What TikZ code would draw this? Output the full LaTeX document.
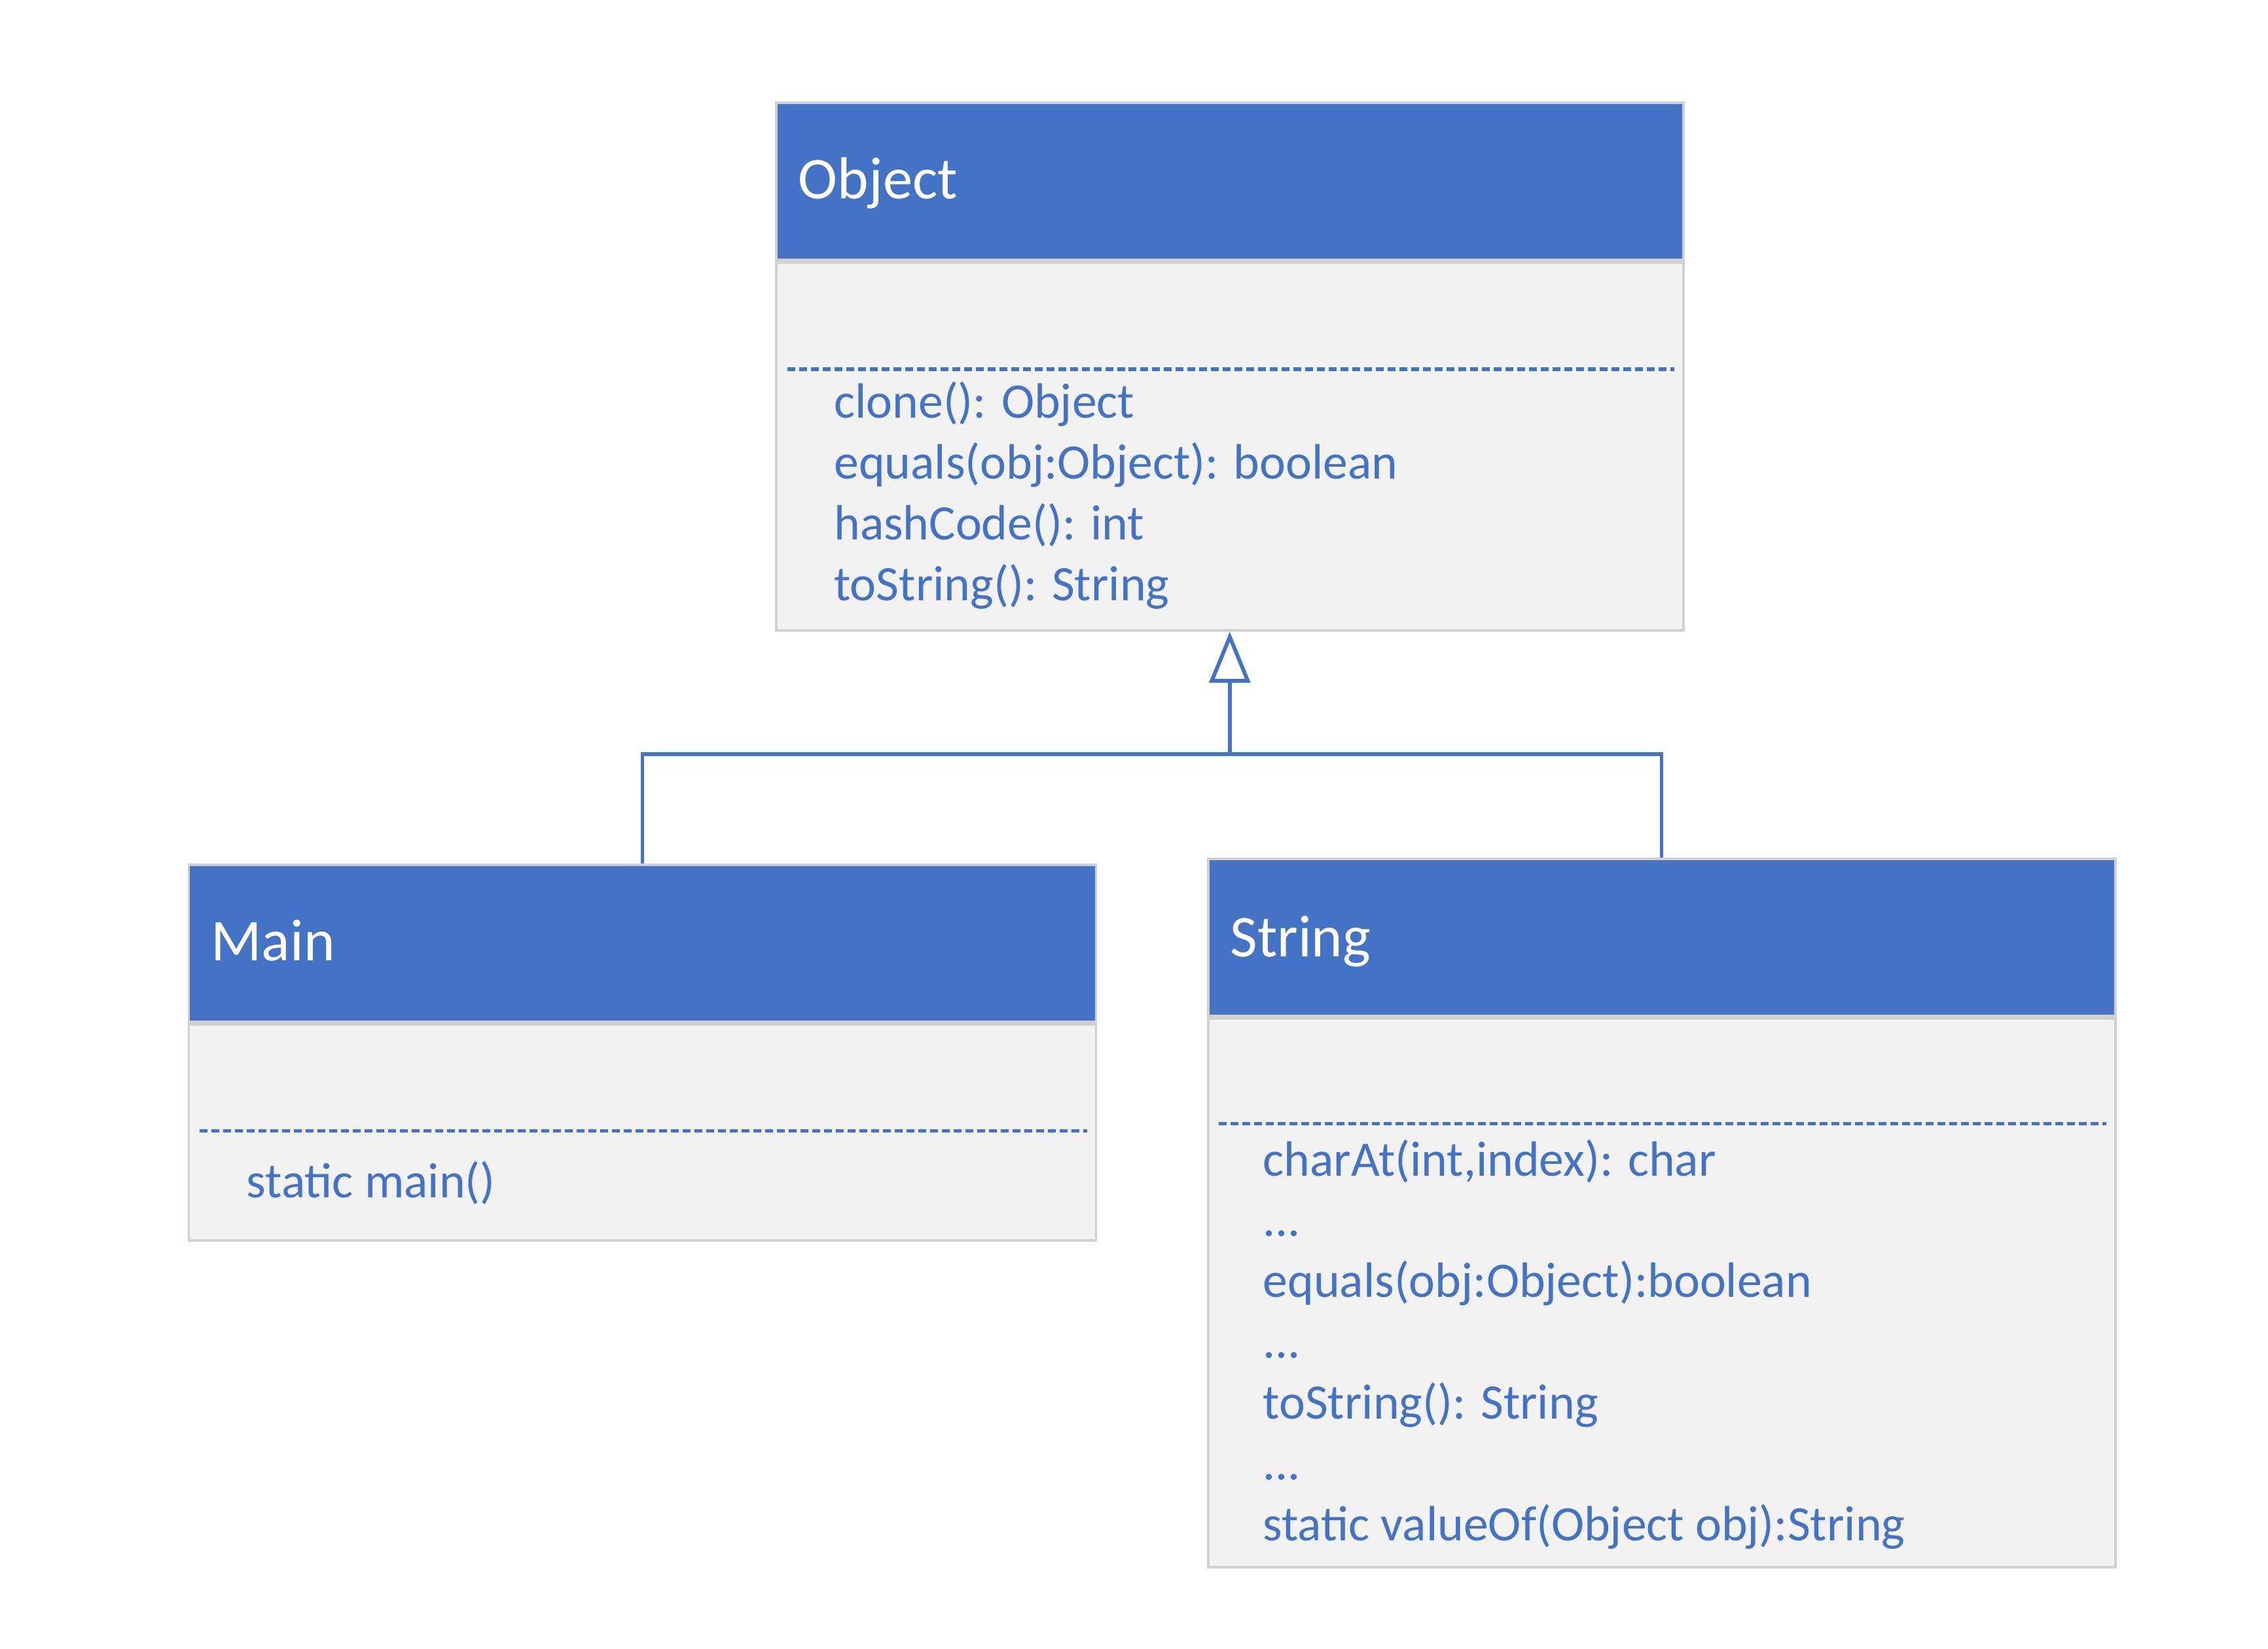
\documentclass[tikz,border=0pt]{standalone}
\usepackage{fontspec}
\setmainfont{Carlito}
\usetikzlibrary{arrows.meta,positioning}
\definecolor{umlblue}{HTML}{4472C4}
\definecolor{umlfill}{HTML}{F2F2F2}
\definecolor{umledge}{HTML}{D0D0D0}

\begin{document}
\begin{tikzpicture}[
    head/.style={rectangle,draw=umledge,fill=umlblue,line width=0.5pt,minimum width=6.24cm,minimum height=1.08cm,inner sep=0,anchor=north west},
    body/.style={rectangle,draw=umledge,fill=umlfill,line width=0.5pt,minimum width=6.24cm,minimum height=#1,inner sep=0},
    title/.style={anchor=base west,inner sep=0,text=white,font=\fontsize{11.6}{14}\selectfont},
    members/.style={anchor=base west,align=left,inner sep=0,text=umlblue,font=\fontsize{9.7}{11.9}\selectfont},
    sep/.style={draw=umlblue,line width=0.75pt,dash pattern=on 0.054cm off 0.027cm},
    inherit/.style={draw=umlblue,line width=0.75pt}]
  \useasboundingbox (0,0) rectangle (15.6,11.34);

  % Object
  \node[head]                          (objhead) at (5.33,10.64) {};
  \node[body=2.53cm,below=0pt of objhead] (objbody) {};
  \node[title] (objtitle) at ([shift={(0.155,-0.665)}]objhead.north west) {Object};
  \draw[sep] ([shift={(0.085,-0.74)}]objbody.north west) -- ([shift={(-0.07,-0.74)}]objbody.north east);
  % base = last line
  \node[members] (objops) at ([shift={(0.40,-2.334)}]objbody.north west)
    {clone(): Object\\equals(obj:Object): boolean\\hashCode(): int\\toString(): String};

  % Main
  \node[head]                           (mainhead) at (1.29,5.40) {};
  \node[body=1.485cm,below=0pt of mainhead] (mainbody) {};
  \node[title] (maintitle) at ([shift={(0.155,-0.665)}]mainhead.north west) {Main};
  \draw[sep] ([shift={(0.085,-0.74)}]mainbody.north west) -- ([shift={(-0.07,-0.74)}]mainbody.north east);
  \node[members] (mainops) at ([shift={(0.40,-1.20)}]mainbody.north west) {static main()};

  % String
  \node[head]                          (strhead) at (8.30,5.44) {};
  \node[body=3.77cm,below=0pt of strhead] (strbody) {};
  \node[title] (strtitle) at ([shift={(0.155,-0.68)}]strhead.north west) {String};
  \draw[sep] ([shift={(0.085,-0.73)}]strbody.north west) -- ([shift={(-0.07,-0.73)}]strbody.north east);
  \node[members] (strops) at ([shift={(0.38,-3.598)}]strbody.north west)
    {charAt(int,index): char\\...\\equals(obj:Object):boolean\\...\\toString(): String\\...\\static valueOf(Object obj):String};

  % inheritance
  \coordinate (joint) at (objbody.south |- 0,6.153);
  \draw[inherit] (mainhead.north) |- (joint);
  \draw[inherit] (strhead.north) |- (joint);
  \draw[inherit,-{Triangle[open,length=0.35cm,width=0.28cm]}] (joint) -- (objbody.south);
\end{tikzpicture}
\end{document}
